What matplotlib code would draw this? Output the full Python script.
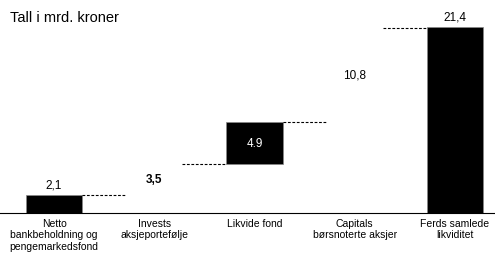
import matplotlib.pyplot as plt

plt.rcParams['font.family'] = ['Liberation Sans', 'DejaVu Sans']

kategorier = ['Netto\nbankbeholdning og\npengemarkedsfond', 'Invests\naksjeportefølje',
              'Likvide fond', 'Capitals\nbørsnoterte aksjer', 'Ferds samlede\nlikviditet']
verdier = [2.1, 3.5, 4.9, 10.8, 21.4]
etiketter = ['2,1', '3,5', '4.9', '10,8', '21,4']
synlig = [True, False, True, False, True]
fet = [False, True, False, False, False]

fig = plt.figure(figsize=(4.95, 2.55), dpi=100)
ax = fig.add_axes([0, 0.161, 1, 0.839])

bredde = 0.56
start = 0
topper = []
for i, v in enumerate(verdier):
    if i == len(verdier) - 1:
        bunn, topp = 0, v
    else:
        bunn, topp = start, start + v
        start = topp
    topper.append(topp)
    if synlig[i]:
        ax.bar(i, topp - bunn, bottom=bunn, width=bredde, color='black',
               edgecolor='#888888', linewidth=0.5)

    vekt = 'bold' if fet[i] else 'normal'
    if i == 0 or i == len(verdier) - 1:
        ax.text(i, topp + 0.5, etiketter[i], ha='center', va='bottom', fontsize=8.5)
    elif synlig[i]:
        ax.text(i, (bunn + topp) / 2, etiketter[i], ha='center', va='center',
                fontsize=8.5, color='white')
    else:
        ax.text(i, (bunn + topp) / 2, etiketter[i], ha='center', va='center',
                fontsize=8.5, fontweight=vekt)

# stiplede forbindelseslinjer
for i in range(len(verdier) - 1):
    ax.plot([i + bredde / 2, i + 1 - bredde / 2], [topper[i], topper[i]],
            color='black', linestyle=(0, (2.5, 1.5)), linewidth=0.8)

for i, k in enumerate(kategorier):
    ax.text(i, -0.6, k, ha='center', va='top', fontsize=7.5, linespacing=1.15)

ax.text(-0.44, 22.5, 'Tall i mrd. kroner', ha='left', va='center', fontsize=10.5)

ax.set_xlim(-0.54, 4.40)
ax.set_ylim(0, 24.6)
for s in ['top', 'right', 'left']:
    ax.spines[s].set_visible(False)
ax.spines['bottom'].set_linewidth(0.8)
ax.set_xticks([])
ax.set_yticks([])

fig.savefig('out.png', dpi=100)
